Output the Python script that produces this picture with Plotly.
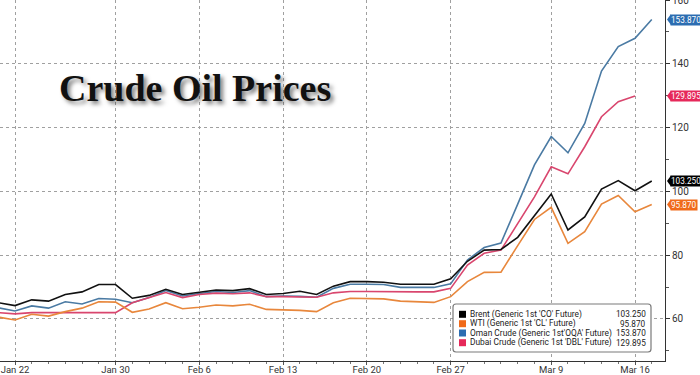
import plotly.graph_objects as go

# ---------------- data ----------------
tick_pos = [1, 7, 12, 17, 22, 27, 33, 38]
tick_text = ["Jan 22", "Jan 30", "Feb 6", "Feb 13", "Feb 20", "Feb 27", "Mar 9", "Mar 16"]

brent = [65.1, 64.2, 66.0, 65.6, 67.7, 68.5, 70.8, 70.8, 66.5, 67.4,
         69.3, 67.7, 68.4, 69.1, 68.9, 69.5, 67.7, 68.0, 68.7, 67.7,
         70.3, 71.7, 71.7, 71.5, 70.9, 71.0, 70.9, 72.6, 78.1, 81.6,
         81.8, 85.6, 92.3, 99.2, 87.9, 92.0, 100.7, 103.4, 100.2, 103.25]
wti = [60.6, 59.7, 61.5, 60.9, 62.3, 63.4, 65.4, 65.3, 62.1, 63.1,
       65.1, 63.2, 63.7, 64.4, 64.1, 64.6, 63.0, 62.9, 62.7, 62.3,
       65.1, 66.5, 66.4, 66.3, 65.6, 65.4, 65.2, 67.0, 71.7, 74.6,
       74.7, 83.0, 91.2, 95.0, 83.7, 87.4, 96.0, 98.7, 93.6, 95.87]
oman = [63.5, 62.5, 64.1, 63.4, 65.4, 64.7, 66.4, 66.2, 65.1, 66.7,
        68.9, 67.2, 68.0, 68.6, 68.3, 68.9, 67.0, 67.2, 67.1, 66.8,
        69.6, 70.9, 70.9, 70.8, 69.9, 69.9, 69.9, 71.0, 78.5, 82.4,
        83.8, 96.0, 108.3, 117.2, 112.1, 121.3, 137.7, 145.4, 148.0, 153.87]
dubai = [62.0, 61.6, 62.0, 62.0, 62.0, 62.0, 62.0, 62.0, 65.1, 66.6,
         68.3, 66.7, 67.7, 68.1, 67.9, 68.2, 67.0, 67.0, 66.8, 66.8,
         68.2, 68.6, 68.6, 68.5, 68.5, 68.5, 68.5, 69.6, 76.9, 80.6,
         81.6, 90.0, 98.3, 107.7, 105.5, 114.0, 123.4, 128.1, 129.895]

names = ["Brent (Generic 1st 'CO' Future)",
         "WTI (Generic 1st 'CL' Future)",
         "Oman Crude (Generic 1st'OQA' Future)",
         "Dubai Crude (Generic 1st 'DBL' Future)"]
last_values = [103.250, 95.870, 153.870, 129.895]
values_list = [brent, wti, oman, dubai]
line_colors = ["#111111", "#e8873c", "#4a7aa3", "#d9466e"]
tag_colors = ["#000000", "#f06a1a", "#2c6db1", "#e6295a"]
title_text = "Crude Oil Prices"

# ---------------- layout geometry ----------------
W, H = 700, 375
ML, MR, MT, MB = 0, 35, 0, 14
PW, PH = W - ML - MR, H - MT - MB
XMIN, XMAX = 0.105, 39.79
YMIN, YMAX = 46.83, 160.0


def px_x(p):
    return (p - ML) / PW


def px_y(p):
    return (H - MB - p) / PH


def val_y(v):
    return (v - YMIN) / (YMAX - YMIN)


fig = go.Figure()

draw_order = [2, 3, 1, 0]
for i in draw_order:
    vals = values_list[i]
    fig.add_trace(go.Scatter(
        x=list(range(len(vals))), y=vals, mode="lines",
        line=dict(color=line_colors[i], width=1.6),
        name=names[i], showlegend=False, hoverinfo="skip"))

shapes = []
annotations = []

# right-side value tags
for i in range(4):
    v = last_values[i]
    yc = val_y(v)
    h = 5.5 / PH
    shapes.append(dict(
        type="path", xref="paper", yref="paper",
        path=f"M {px_x(667)},{yc} L {px_x(671)},{yc + h} L {px_x(671)},{yc - h} Z",
        fillcolor=tag_colors[i], line=dict(width=0), layer="above"))
    annotations.append(dict(
        xref="paper", yref="paper", x=px_x(670), y=yc, xanchor="left", yanchor="middle",
        text=f"{v:.3f}", showarrow=False, bgcolor=tag_colors[i], borderpad=0,
        font=dict(family="Roboto, Liberation Sans, sans-serif", size=8.2, color="white")))

# legend box (rounded)
bx0, bx1, by0, by1, r = 453, 651, 304, 352, 3
rx, ry = r / PW, r / PH
x0, x1, y0, y1 = px_x(bx0), px_x(bx1), px_y(by1), px_y(by0)
path = (f"M {x0 + rx},{y0} L {x1 - rx},{y0} Q {x1},{y0} {x1},{y0 + ry} "
        f"L {x1},{y1 - ry} Q {x1},{y1} {x1 - rx},{y1} L {x0 + rx},{y1} "
        f"Q {x0},{y1} {x0},{y1 - ry} L {x0},{y0 + ry} Q {x0},{y0} {x0 + rx},{y0} Z")
shapes.append(dict(type="path", xref="paper", yref="paper", path=path,
                   fillcolor="white", line=dict(color="#7a7a7a", width=1.2), layer="above"))

row_y = [314.3, 323.7, 333.0, 342.7]
for i in range(4):
    yc = row_y[i]
    shapes.append(dict(type="rect", xref="paper", yref="paper",
                       x0=px_x(459), x1=px_x(466), y0=px_y(yc + 3.5), y1=px_y(yc - 3.5),
                       fillcolor=tag_colors[i], line=dict(width=0), layer="above"))
    annotations.append(dict(
        xref="paper", yref="paper", x=px_x(468), y=px_y(yc), xanchor="left", yanchor="middle",
        text=names[i], showarrow=False,
        font=dict(family="Roboto, Liberation Sans, sans-serif", size=8.4, color="#222222")))
    annotations.append(dict(
        xref="paper", yref="paper", x=px_x(648), y=px_y(yc), xanchor="right", yanchor="middle",
        text=f"{last_values[i]:.3f}", showarrow=False,
        font=dict(family="Roboto, Liberation Sans, sans-serif", size=8.2, color="#222222")))

# title
annotations.append(dict(
    xref="paper", yref="paper", x=px_x(195.5), y=px_y(88), xanchor="center", yanchor="middle",
    text=f"<b>{title_text}</b>", showarrow=False,
    font=dict(family="Liberation Serif, Times New Roman, serif", size=38, color="#111111",
              shadow="3px 3px 4px rgba(0,0,0,0.5)")))

fig.update_layout(
    width=W, height=H,
    margin=dict(l=ML, r=MR, t=MT, b=MB, pad=0),
    paper_bgcolor="white", plot_bgcolor="white",
    showlegend=False,
    shapes=shapes, annotations=annotations,
    xaxis=dict(
        range=[XMIN, XMAX], tickmode="array", tickvals=tick_pos, ticktext=tick_text,
        showgrid=True, gridcolor="#a0a0a0", griddash="dot", gridwidth=1,
        zeroline=False, showline=True, linecolor="#333333", linewidth=1,
        ticks="outside", ticklen=3, tickcolor="#555555",
        minor=dict(dtick=1, tick0=0, ticks="outside", ticklen=2, tickcolor="#777777", showgrid=False),
        tickfont=dict(family="Roboto, Liberation Sans, sans-serif", size=9.5, color="#333333"),
        ticklabelstandoff=-3, ticklabeloverflow="allow",
        automargin=False, fixedrange=True),
    yaxis=dict(
        range=[YMIN, YMAX], side="right", tickmode="array",
        tickvals=[60, 80, 100, 120, 140, 160],
        showgrid=True, gridcolor="#a0a0a0", griddash="dot", gridwidth=1,
        zeroline=False, showline=True, linecolor="#333333", linewidth=1,
        ticks="outside", ticklen=4, tickcolor="#333333",
        minor=dict(tickvals=[50, 70, 90, 110, 130, 150], ticks="outside", ticklen=3,
                   tickcolor="#555555", showgrid=False),
        tickfont=dict(family="Roboto, Liberation Sans, sans-serif", size=10, color="#333333"),
        ticklabeloverflow="allow",
        automargin=False, fixedrange=True),
)

fig.write_html("out.html", config={"displayModeBar": False},
               post_script="document.body.style.margin='0';")
